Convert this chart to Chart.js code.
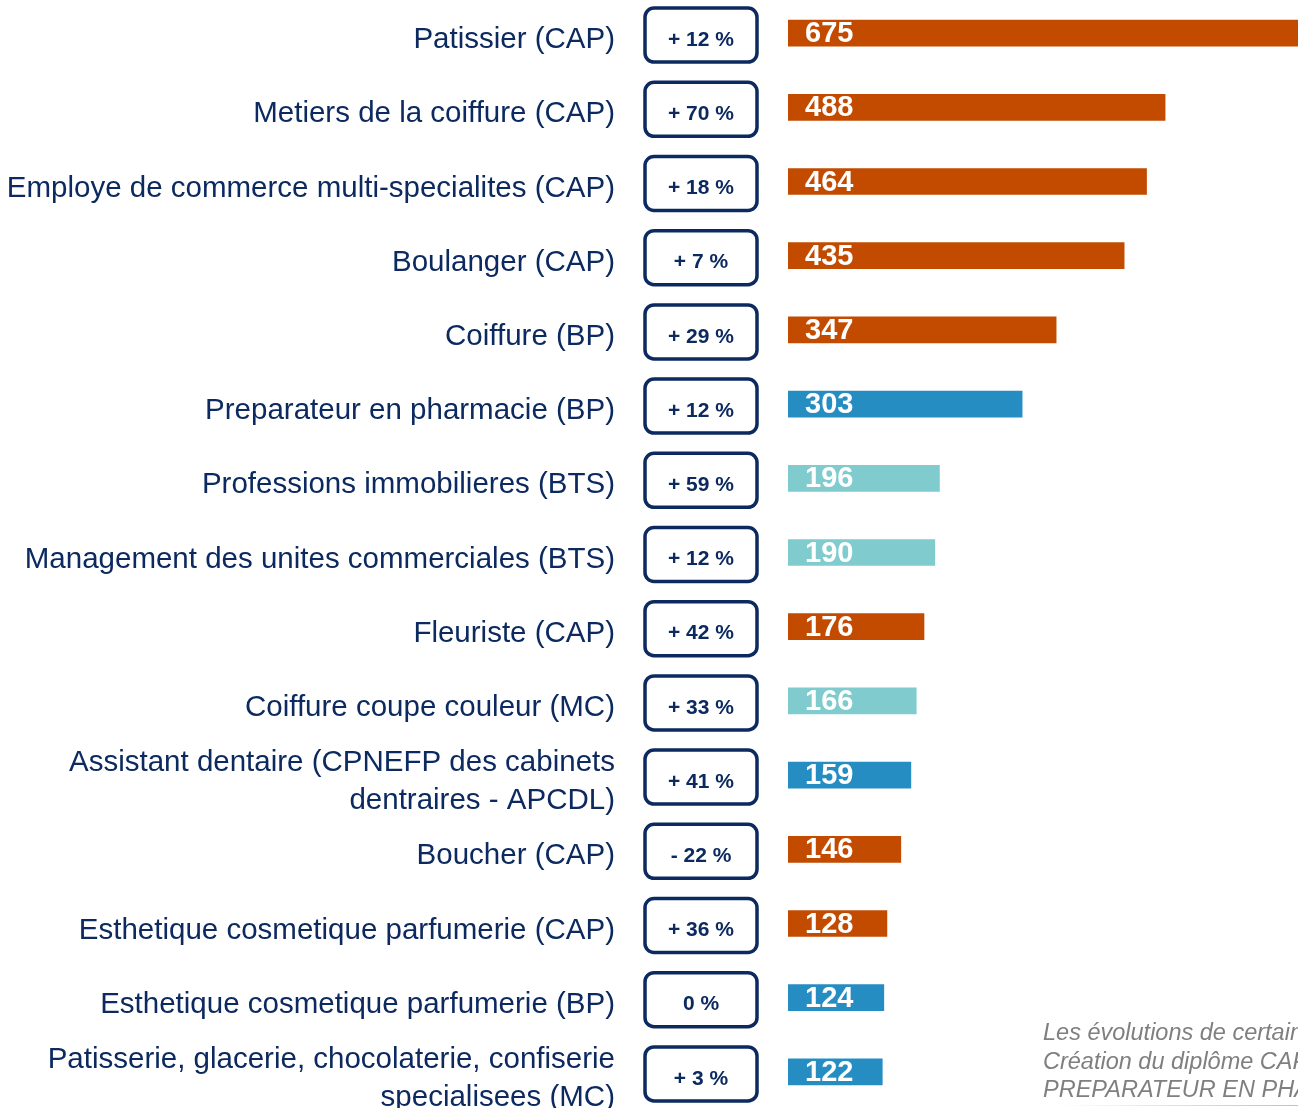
<!DOCTYPE html>
<html>
<head>
<meta charset="utf-8">
<script src="https://cdn.jsdelivr.net/npm/chart.js@4"></script>
<style>
  html, body { margin: 0; padding: 0; background: #fff; overflow: hidden; }
  body { width: 1298px; height: 1108px; position: relative; }
  #wrap { position: absolute; left: 0; top: -4px; width: 1298px; height: 1113px; }
  #note {
    position: absolute; left: 1043px; top: 1018px;
    font: italic 23.5px "Liberation Sans", Arial, sans-serif;
    line-height: 28.5px; color: #7f7f7f; white-space: nowrap;
  }
  #rule {
    position: absolute; left: 1060px; top: 1105px; width: 238px; height: 1px;
    background: linear-gradient(to right, rgba(150,150,150,0), rgba(150,150,150,0.6));
  }
</style>
</head>
<body>
<div id="wrap"><canvas id="chart"></canvas></div>
<div id="note">Les évolutions de certains diplômes<br>Création du diplôme CAP<br>PREPARATEUR EN PHARMACIE</div>
<div id="rule"></div>
<script>
const diplomas = [
  "Patissier (CAP)",
  "Metiers de la coiffure (CAP)",
  "Employe de commerce multi-specialites (CAP)",
  "Boulanger (CAP)",
  "Coiffure (BP)",
  "Preparateur en pharmacie (BP)",
  "Professions immobilieres (BTS)",
  "Management des unites commerciales (BTS)",
  "Fleuriste (CAP)",
  "Coiffure coupe couleur (MC)",
  ["Assistant dentaire (CPNEFP des cabinets", "dentraires - APCDL)"],
  "Boucher (CAP)",
  "Esthetique cosmetique parfumerie (CAP)",
  "Esthetique cosmetique parfumerie (BP)",
  ["Patisserie, glacerie, chocolaterie, confiserie", "specialisees (MC)"]
];
const contracts = [675, 488, 464, 435, 347, 303, 196, 190, 176, 166, 159, 146, 128, 124, 122];
const evolution = ["+ 12 %", "+ 70 %", "+ 18 %", "+ 7 %", "+ 29 %", "+ 12 %", "+ 59 %", "+ 12 %",
  "+ 42 %", "+ 33 %", "+ 41 %", "- 22 %", "+ 36 %", "0 %", "+ 3 %"];

const ORANGE = "#c24b00";
const BLUE = "#268dc3";
const TEAL = "#80cbcd";
const barColors = [ORANGE, ORANGE, ORANGE, ORANGE, ORANGE, BLUE, TEAL, TEAL,
  ORANGE, TEAL, BLUE, ORANGE, ORANGE, BLUE, BLUE];

const NAVY = "#0c2a60";

// percentage boxes + values written inside the bars
const annotations = {
  id: "annotations",
  afterDatasetsDraw(chart) {
    const ctx = chart.ctx;
    const y = chart.scales.y;
    const x = chart.scales.x;
    ctx.save();
    contracts.forEach((v, i) => {
      const cy = y.getPixelForValue(i);
      // box
      ctx.beginPath();
      ctx.roundRect(645, cy - 25, 112, 54, 9);
      ctx.lineWidth = 3.5;
      ctx.strokeStyle = NAVY;
      ctx.stroke();
      ctx.fillStyle = NAVY;
      ctx.font = "bold 21px 'Liberation Sans', Arial, sans-serif";
      ctx.textAlign = "center";
      ctx.textBaseline = "middle";
      ctx.fillText(evolution[i], 701, cy + 7);
      // value
      ctx.fillStyle = "#ffffff";
      ctx.font = "bold 29px 'Liberation Sans', Arial, sans-serif";
      ctx.textAlign = "left";
      ctx.fillText(String(v), x.getPixelForValue(0) + 17, cy + 1);
    });
    ctx.restore();
  }
};

new Chart(document.getElementById("chart"), {
  type: "bar",
  data: {
    labels: diplomas,
    datasets: [{
      data: contracts,
      backgroundColor: barColors,
      barThickness: 26,
      borderWidth: 0
    }]
  },
  options: {
    indexAxis: "y",
    responsive: true,
    maintainAspectRatio: false,
    animation: false,
    layout: { padding: 0, autoPadding: false },
    plugins: {
      legend: { display: false },
      tooltip: { enabled: false }
    },
    scales: {
      x: {
        display: false,
        min: 0,
        max: 660
      },
      y: {
        afterFit(scale) {
          scale.width = 788;
          scale.paddingTop = 0;
          scale.paddingBottom = 0;
        },
        grid: { display: false, drawTicks: false },
        border: { display: false },
        ticks: {
          autoSkip: false,
          padding: 173,
          labelOffset: 7,
          color: NAVY,
          font: { family: "'Liberation Sans', Arial, sans-serif", size: 29.5, lineHeight: 1.3 }
        }
      }
    }
  },
  plugins: [annotations]
});
</script>
</body>
</html>
